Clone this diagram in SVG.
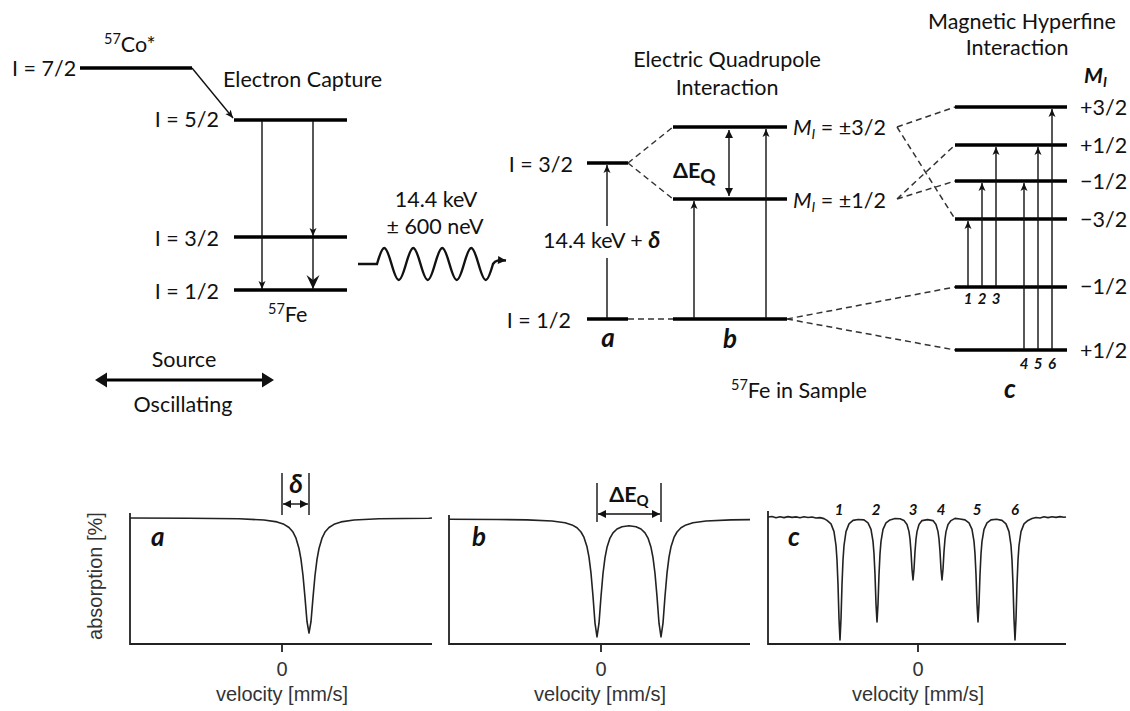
<svg xmlns="http://www.w3.org/2000/svg" width="1130" height="711" viewBox="0 0 1130 711">
<style>
.lvl{stroke:#000;stroke-width:3.5;fill:none}
.arr{stroke:#111;stroke-width:1.4;fill:none}
.dash{stroke:#333;stroke-width:1.5;stroke-dasharray:6 4;fill:none}
.t{font-family:Lato,"Liberation Sans",sans-serif;font-size:21.5px;fill:#111}
.sup{font-size:14.5px}
.bi{font-weight:bold;font-style:italic}
.lab{font-family:Lato,"Liberation Sans",sans-serif;font-weight:bold;font-style:italic;font-size:26px;fill:#111}
.num{font-family:Lato,"Liberation Sans",sans-serif;font-weight:bold;font-style:italic;font-size:15px;fill:#111}
.bt{font-family:"Liberation Sans",Arial,sans-serif;font-size:20px;fill:#333}
.curve{stroke:#222;stroke-width:1.6;fill:none;stroke-linejoin:round}
.axis{stroke:#222;stroke-width:1.8;fill:none}
.mk{fill:#111}
</style>
<defs>
<marker id="ah" viewBox="-8 -4 9 8" refX="0" refY="0" markerWidth="9" markerHeight="8" markerUnits="userSpaceOnUse" orient="auto-start-reverse"><path class="mk" d="M0,0 L-8,-3.5 L-6,0 L-8,3.5 z"/></marker>
<marker id="ahL" viewBox="-15 -7 16 14" refX="0" refY="0" markerWidth="16" markerHeight="14" markerUnits="userSpaceOnUse" orient="auto"><path class="mk" d="M0,0 L-14,-6.5 L-9,0 L-14,6.5 z"/></marker>
<marker id="tri" viewBox="-13 -8 14 16" refX="-4" refY="0" markerWidth="14" markerHeight="16" markerUnits="userSpaceOnUse" orient="auto-start-reverse"><path class="mk" d="M0,0 L-12,-7.5 L-12,7.5 z"/></marker>
<marker id="triS" viewBox="-9 -5 10 10" refX="0" refY="0" markerWidth="10" markerHeight="10" markerUnits="userSpaceOnUse" orient="auto-start-reverse"><path class="mk" d="M0,0 L-8,-4 L-8,4 z"/></marker>
</defs>

<g id="source-co57">
<line class="lvl" x1="80" y1="68" x2="192" y2="68"/>
<text class="t" x="12" y="76">I = 7/2</text>
<text class="t" x="104" y="52"><tspan class="sup" dy="-8">57</tspan><tspan dy="8">Co*</tspan></text>
</g>

<g id="source-fe57">
<line class="lvl" x1="234" y1="120" x2="347" y2="120"/>
<line class="lvl" x1="234" y1="237" x2="347" y2="237"/>
<line class="lvl" x1="234" y1="290" x2="347" y2="290"/>
<text class="t" x="219" y="127" text-anchor="end">I = 5/2</text>
<text class="t" x="219" y="246" text-anchor="end">I = 3/2</text>
<text class="t" x="219" y="299" text-anchor="end">I = 1/2</text>
<text class="t" x="268" y="322"><tspan class="sup" dy="-8">57</tspan><tspan dy="8">Fe</tspan></text>
<text class="t" x="223" y="87">Electron Capture</text>
</g>

<g id="oscillation">
<line stroke="#000" stroke-width="3" x1="99" y1="380" x2="270" y2="380" marker-start="url(#tri)" marker-end="url(#tri)"/>
<text class="t" x="184" y="367" text-anchor="middle">Source</text>
<text class="t" x="183" y="412" text-anchor="middle">Oscillating</text>
</g>

<g id="gamma">
<path stroke="#111" stroke-width="2.4" fill="none" marker-end="url(#triS)" d="M358,264 H377 c6.15,-21.3 8.35,-21.3 14.5,0 c6.15,21.3 8.35,21.3 14.5,0 c6.15,-21.3 8.35,-21.3 14.5,0 c6.15,21.3 8.35,21.3 14.5,0 c6.15,-21.3 8.35,-21.3 14.5,0 c6.15,21.3 8.35,21.3 14.5,0 c6.15,-21.3 8.35,-21.3 14.5,0 c6.15,21.3 8.35,21.3 14.5,0 c2.5,-4 5,-4 13,-3.5"/>
<text class="t" x="436" y="207" text-anchor="middle">14.4 keV</text>
<text class="t" x="435" y="234" text-anchor="middle">± 600 neV</text>
</g>

<g id="sample-a">
<line class="lvl" x1="587" y1="163" x2="628" y2="163"/>
<line class="lvl" x1="587" y1="319" x2="628" y2="319"/>
<text class="t" x="573" y="172" text-anchor="end">I = 3/2</text>
<text class="t" x="571" y="328" text-anchor="end">I = 1/2</text>
<text class="t" x="543" y="248">14.4 keV + <tspan class="bi" font-size="23">δ</tspan></text>
<text class="lab" x="608" y="347" text-anchor="middle">a</text>
</g>

<g id="sample-b">
<line class="lvl" x1="673" y1="127" x2="787" y2="127"/>
<line class="lvl" x1="673" y1="199" x2="787" y2="199"/>
<line class="lvl" x1="673" y1="319" x2="787" y2="319"/>
<text class="t" x="727" y="67" text-anchor="middle">Electric Quadrupole</text>
<text class="t" x="727" y="95" text-anchor="middle">Interaction</text>
<text class="t" x="673" y="178" font-weight="bold" font-size="27">ΔE<tspan font-size="19" dy="5">Q</tspan></text>
<text class="t" x="793" y="135"><tspan font-style="italic">M</tspan><tspan font-style="italic" font-size="14" dy="4">I</tspan><tspan dy="-4"> = ±3/2</tspan></text>
<text class="t" x="793" y="208"><tspan font-style="italic">M</tspan><tspan font-style="italic" font-size="14" dy="4">I</tspan><tspan dy="-4"> = ±1/2</tspan></text>
<text class="lab" x="730" y="348" text-anchor="middle">b</text>
<text class="t" x="731" y="398"><tspan class="sup" dy="-8">57</tspan><tspan dy="8">Fe in Sample</tspan></text>
</g>

<g id="sample-c">
<line class="lvl" x1="955" y1="107" x2="1067" y2="107"/>
<line class="lvl" x1="955" y1="145" x2="1067" y2="145"/>
<line class="lvl" x1="955" y1="181" x2="1067" y2="181"/>
<line class="lvl" x1="955" y1="219" x2="1067" y2="219"/>
<line class="lvl" x1="955" y1="287" x2="1067" y2="287"/>
<line class="lvl" x1="955" y1="350" x2="1067" y2="350"/>
<text class="t" x="1022" y="29" text-anchor="middle">Magnetic Hyperfine</text>
<text class="t" x="1017" y="55" text-anchor="middle">Interaction</text>
<text class="t bi" x="1084" y="83" font-size="23">M<tspan font-size="14" dy="4">I</tspan></text>
<text class="t" x="1080" y="115">+3/2</text>
<text class="t" x="1080" y="153">+1/2</text>
<text class="t" x="1080" y="189">−1/2</text>
<text class="t" x="1080" y="227">−3/2</text>
<text class="t" x="1080" y="294">−1/2</text>
<text class="t" x="1080" y="358">+1/2</text>
<text class="num" x="968" y="304" text-anchor="middle">1</text>
<text class="num" x="982" y="304" text-anchor="middle">2</text>
<text class="num" x="996" y="304" text-anchor="middle">3</text>
<text class="num" x="1024" y="369" text-anchor="middle">4</text>
<text class="num" x="1038" y="369" text-anchor="middle">5</text>
<text class="num" x="1052" y="369" text-anchor="middle">6</text>
<text class="lab" x="1010" y="398" text-anchor="middle">c</text>
</g>

<g id="connectors">
<line class="arr" x1="192" y1="68" x2="233" y2="118" marker-end="url(#ah)"/>
<line class="arr" x1="262" y1="121" x2="262" y2="289" marker-end="url(#ah)"/>
<line class="arr" x1="313" y1="121" x2="313" y2="236" marker-end="url(#ah)"/>
<line class="arr" x1="313" y1="238" x2="313" y2="289" marker-end="url(#ahL)"/>
<line class="arr" x1="607" y1="318" x2="607" y2="258"/>
<line class="arr" x1="607" y1="226" x2="607" y2="165" marker-end="url(#ah)"/>
<line class="arr" x1="694" y1="318" x2="694" y2="201" marker-end="url(#ah)"/>
<line class="arr" x1="766" y1="318" x2="766" y2="129" marker-end="url(#ah)"/>
<line class="arr" x1="729" y1="130" x2="729" y2="196" marker-start="url(#triS)" marker-end="url(#triS)"/>
<line class="arr" x1="968" y1="286" x2="968" y2="221" marker-end="url(#ah)"/>
<line class="arr" x1="982" y1="286" x2="982" y2="183" marker-end="url(#ah)"/>
<line class="arr" x1="996" y1="286" x2="996" y2="147" marker-end="url(#ah)"/>
<line class="arr" x1="1024" y1="349" x2="1024" y2="183" marker-end="url(#ah)"/>
<line class="arr" x1="1038" y1="349" x2="1038" y2="147" marker-end="url(#ah)"/>
<line class="arr" x1="1052" y1="349" x2="1052" y2="109" marker-end="url(#ah)"/>
<path class="dash" d="M628,163 L673,127 M628,163 L673,199 M628,319 L673,319"/>
<path class="dash" d="M787,319 L955,287 M787,319 L955,350"/>
<path class="dash" d="M897,127 L955,107 M897,127 L955,219 M897,199 L955,145 M897,199 L955,181"/>
</g>

<g id="spectrum-a">
<path class="axis" d="M130,513 V644 H432 M282,644 V652"/>
<polyline class="curve" points="130,518 189,518.3 239,518.8 264,520 277,521.9 284,524.3 289,527.5 293,532.1 296,538.2 299,548.5 301,559.4 303,575.5 305,597.6 307,621.5 309,633 311,621.5 313,597.6 315,575.5 317,559.4 319,548.5 322,538.2 325,532.1 329,527.5 334,524.3 341,521.9 354,520 379,518.8 429,518.3 432,518"/>
<path class="arr" d="M282,473 V515 M309,473 V515"/>
<line class="arr" x1="283" y1="504" x2="308" y2="504" marker-start="url(#triS)" marker-end="url(#triS)"/>
<text class="lab" x="296" y="493" text-anchor="middle" font-size="22">δ</text>
<text class="lab" x="151" y="546">a</text>
<text class="bt" transform="translate(102,576) rotate(-90)" text-anchor="middle">absorption [%]</text>
<text class="bt" x="282" y="676" text-anchor="middle">0</text>
<text class="bt" x="282" y="701" text-anchor="middle">velocity [mm/s]</text>
</g>

<g id="spectrum-b">
<path class="axis" d="M449,515 V644 H750 M601,644 V652"/>
<polyline class="curve" points="449,519.2 497,519.5 527,519.9 552,521 565,522.7 572,524.9 577,527.7 581,532 584,537.4 587,546.8 589,557.2 591,573.2 593,596.3 595,623.1 597,636.9 599,623.2 601,596.5 603,573.5 605,557.7 607,547.3 610,538.1 613,532.9 617,529 622,526.7 629,525.7 636,526.7 641,529 645,532.9 648,538.1 651,547.3 653,557.7 655,573.5 657,596.5 659,623.2 661,636.9 663,623.1 665,596.3 667,573.2 669,557.2 671,546.8 674,537.4 677,532 681,527.7 686,524.9 693,522.7 706,521 731,519.9 750,519.6"/>
<path class="arr" d="M597,483 V522 M661,483 V522"/>
<line class="arr" x1="598" y1="514" x2="660" y2="514" marker-start="url(#triS)" marker-end="url(#triS)"/>
<text class="t" x="629" y="502" text-anchor="middle" font-weight="bold" font-size="22">ΔE<tspan font-size="15" dy="4">Q</tspan></text>
<text class="lab" x="472" y="546">b</text>
<text class="bt" x="601" y="676" text-anchor="middle">0</text>
<text class="bt" x="600" y="701" text-anchor="middle">velocity [mm/s]</text>
</g>

<g id="spectrum-c">
<path class="axis" d="M768,511 V644 H1066 M918,644 V652"/>
<polyline class="curve" points="768,517 772,516.5 776,517.8 780,516.8 784,517.6 788,516.6 792,517.4 796,516.9 800,517.8 804,516.7 808,517.5 812,517 816,518 820,517.6 824,518.6 827,520.4 831,523.9 834,531.6 836,545.5 837,560 838,584.4 839,619 840,640 841,619 842,584.4 843,560 844,545.5 846,531.6 849,523.9 853,520.4 858,519.5 864,519.9 868,522.9 871,529.4 873,541.4 874,553.8 875,574.5 876,604 877,622 878,604 879,574.5 880,553.8 881,541.4 883,529.4 886,522.9 890,519.9 895,518.6 900,518.8 904,520.6 907,524.5 909,531.6 910,539 911,551.5 912,569.2 913,580 914,569.2 915,551.5 916,539 917,531.6 919,524.5 922,520.6 927.5,519.6 933,520.6 936,524.5 938,531.6 939,539 940,551.5 941,569.2 942,580 943,569.2 944,551.5 945,539 946,531.6 948,524.5 951,520.6 955,518.4 960,519 965,519.9 969,522.9 972,529.4 974,541.4 975,553.8 976,574.5 977,604 978,622 979,604 980,574.5 981,553.8 982,541.4 984,529.4 987,522.9 991,519.9 996.5,519.2 1002,520.4 1006,523.9 1009,531.6 1011,545.5 1012,560 1013,584.4 1014,619 1015,640 1016,619 1017,584.4 1018,560 1019,545.5 1021,531.6 1024,523.9 1028,520.4 1032,518.6 1036,517.5 1040,518 1044,516.8 1048,517.6 1052,516.7 1056,517.4 1060,516.6 1064,517.3 1066,517"/>
<text class="num" x="839" y="515" text-anchor="middle">1</text>
<text class="num" x="876" y="515" text-anchor="middle">2</text>
<text class="num" x="913" y="515" text-anchor="middle">3</text>
<text class="num" x="941" y="515" text-anchor="middle">4</text>
<text class="num" x="977" y="515" text-anchor="middle">5</text>
<text class="num" x="1015" y="515" text-anchor="middle">6</text>
<text class="lab" x="788" y="546">c</text>
<text class="bt" x="918" y="676" text-anchor="middle">0</text>
<text class="bt" x="918" y="701" text-anchor="middle">velocity [mm/s]</text>
</g>
</svg>
